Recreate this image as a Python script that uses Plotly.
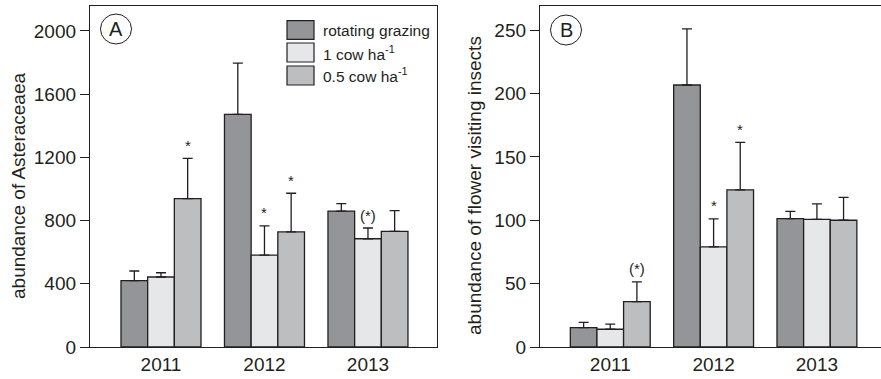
import plotly.graph_objects as go

W, H = 881, 379

years = ["2011", "2012", "2013"]
series_names = ["rotating grazing", "1 cow ha<sup>-1</sup>", "0.5 cow ha<sup>-1</sup>"]
colors = ["#939598", "#e6e7e8", "#bcbec0"]

# Panel A: abundance of Asteraceaea
a_rot = [420, 1472, 860]
a_rot_err = [61, 325, 47]
a_cow1 = [443, 582, 685]
a_cow1_err = [27, 184, 68]
a_cow05 = [939, 728, 732]
a_cow05_err = [255, 245, 131]
a_sig = [["", "", ""], ["", "*", "(*)"], ["*", "*", ""]]

# Panel B: abundance of flower visiting insects
b_rot = [15.3, 206.7, 101.3]
b_rot_err = [4.2, 44.3, 5.7]
b_cow1 = [14, 79, 100.7]
b_cow1_err = [4, 22, 12.2]
b_cow05 = [35.8, 124, 100]
b_cow05_err = [15.6, 37.4, 18]
b_sig = [["", "", ""], ["", "*", ""], ["(*)", "*", ""]]

a_ticks = [0, 400, 800, 1200, 1600, 2000]
b_ticks = [0, 50, 100, 150, 200, 250]

INK = "#231f20"
FONT = "Liberation Sans, Arial, Helvetica, sans-serif"

fig = go.Figure()

panels = [
    ("x", "y", [a_rot, a_cow1, a_cow05], [a_rot_err, a_cow1_err, a_cow05_err], a_sig),
    ("x2", "y2", [b_rot, b_cow1, b_cow05], [b_rot_err, b_cow1_err, b_cow05_err], b_sig),
]

for xa, ya, vals, errs, sig in panels:
    for i in range(3):
        fig.add_trace(go.Bar(
            x=years, y=vals[i], xaxis=xa, yaxis=ya,
            name=series_names[i], offsetgroup=str(i), showlegend=False,
            marker=dict(color=colors[i], line=dict(color=INK, width=1.3)),
            error_y=dict(type="data", array=errs[i], arrayminus=[0, 0, 0],
                         symmetric=False, color=INK, thickness=1.3, width=5),
        ))
        for j in range(3):
            if sig[i][j]:
                fig.add_annotation(
                    x=j, y=vals[i][j] + errs[i][j], xref=xa, yref=ya,
                    text=sig[i][j], showarrow=False, xshift=(i - 1) * 26.7,
                    yshift=13, xanchor="center", yanchor="middle",
                    font=dict(size=15, color=INK, family=FONT),
                )

def px(x):
    return x / W

def py(y):
    return 1 - y / H

axis_common = dict(showline=True, linecolor=INK, linewidth=1.3, automargin=False,
                   tickfont=dict(size=19, color=INK, family=FONT),
                   showgrid=False, zeroline=False)

fig.update_layout(
    width=W, height=H,
    margin=dict(l=0, r=0, t=0, b=0, autoexpand=False),
    paper_bgcolor="white", plot_bgcolor="white",
    barmode="group", bargap=0.227, bargroupgap=0,
    font=dict(family=FONT, color=INK),
    showlegend=False,
    xaxis=dict(type="category", domain=[px(90), px(437)], range=[-0.686, 2.667], anchor="y",
               mirror=True, ticks="", **axis_common),
    yaxis=dict(domain=[py(347), py(6)], range=[0, 2158], anchor="x",
               mirror=True, ticks="outside", ticklen=9, tickwidth=1.3, tickcolor=INK,
               tickvals=a_ticks, **axis_common),
    xaxis2=dict(type="category", domain=[px(540), 1.0], range=[-0.68, 2.62], anchor="y2",
                mirror=True, ticks="", **axis_common),
    yaxis2=dict(domain=[py(347), py(6)], range=[0, 269], anchor="x2",
                mirror=False, ticks="outside", ticklen=9, tickwidth=1.3, tickcolor=INK,
                tickvals=b_ticks, **axis_common),
)

# axis titles
fig.add_annotation(x=px(18), y=py(186), xref="paper", yref="paper",
                   xanchor="center", yanchor="middle",
                   text="abundance of Asteraceaea", textangle=-90, showarrow=False,
                   font=dict(size=19, color=INK, family=FONT))
fig.add_annotation(x=px(474), y=py(186), xref="paper", yref="paper",
                   xanchor="center", yanchor="middle",
                   text="abundance of flower visiting insects", textangle=-90, showarrow=False,
                   font=dict(size=19, color=INK, family=FONT))

# panel labels
for cx, cy, lab in [(116, 29, "A"), (566, 30, "B")]:
    fig.add_shape(type="circle", xref="paper", yref="paper",
                  x0=px(cx - 15.5), x1=px(cx + 15.5), y0=py(cy + 15), y1=py(cy - 15),
                  line=dict(color=INK, width=1))
    fig.add_annotation(x=px(cx), y=py(cy), xref="paper", yref="paper", text=lab,
                       xanchor="center", yanchor="middle",
                       showarrow=False, font=dict(size=20, color=INK, family=FONT))

# legend (drawn manually)
rows = [(20.7, 39.3), (43, 62), (66, 85)]
for i, (y0, y1) in enumerate(rows):
    fig.add_shape(type="rect", xref="paper", yref="paper",
                  x0=px(287), x1=px(314), y0=py(y1), y1=py(y0),
                  fillcolor=colors[i], line=dict(color=INK, width=1.2))
    fig.add_annotation(x=px(321), y=py((y0 + y1) / 2), xref="paper", yref="paper",
                       text=series_names[i], showarrow=False, xanchor="left", yanchor="middle",
                       font=dict(size=15.5, color=INK, family=FONT))

fig.write_html("out.html")
